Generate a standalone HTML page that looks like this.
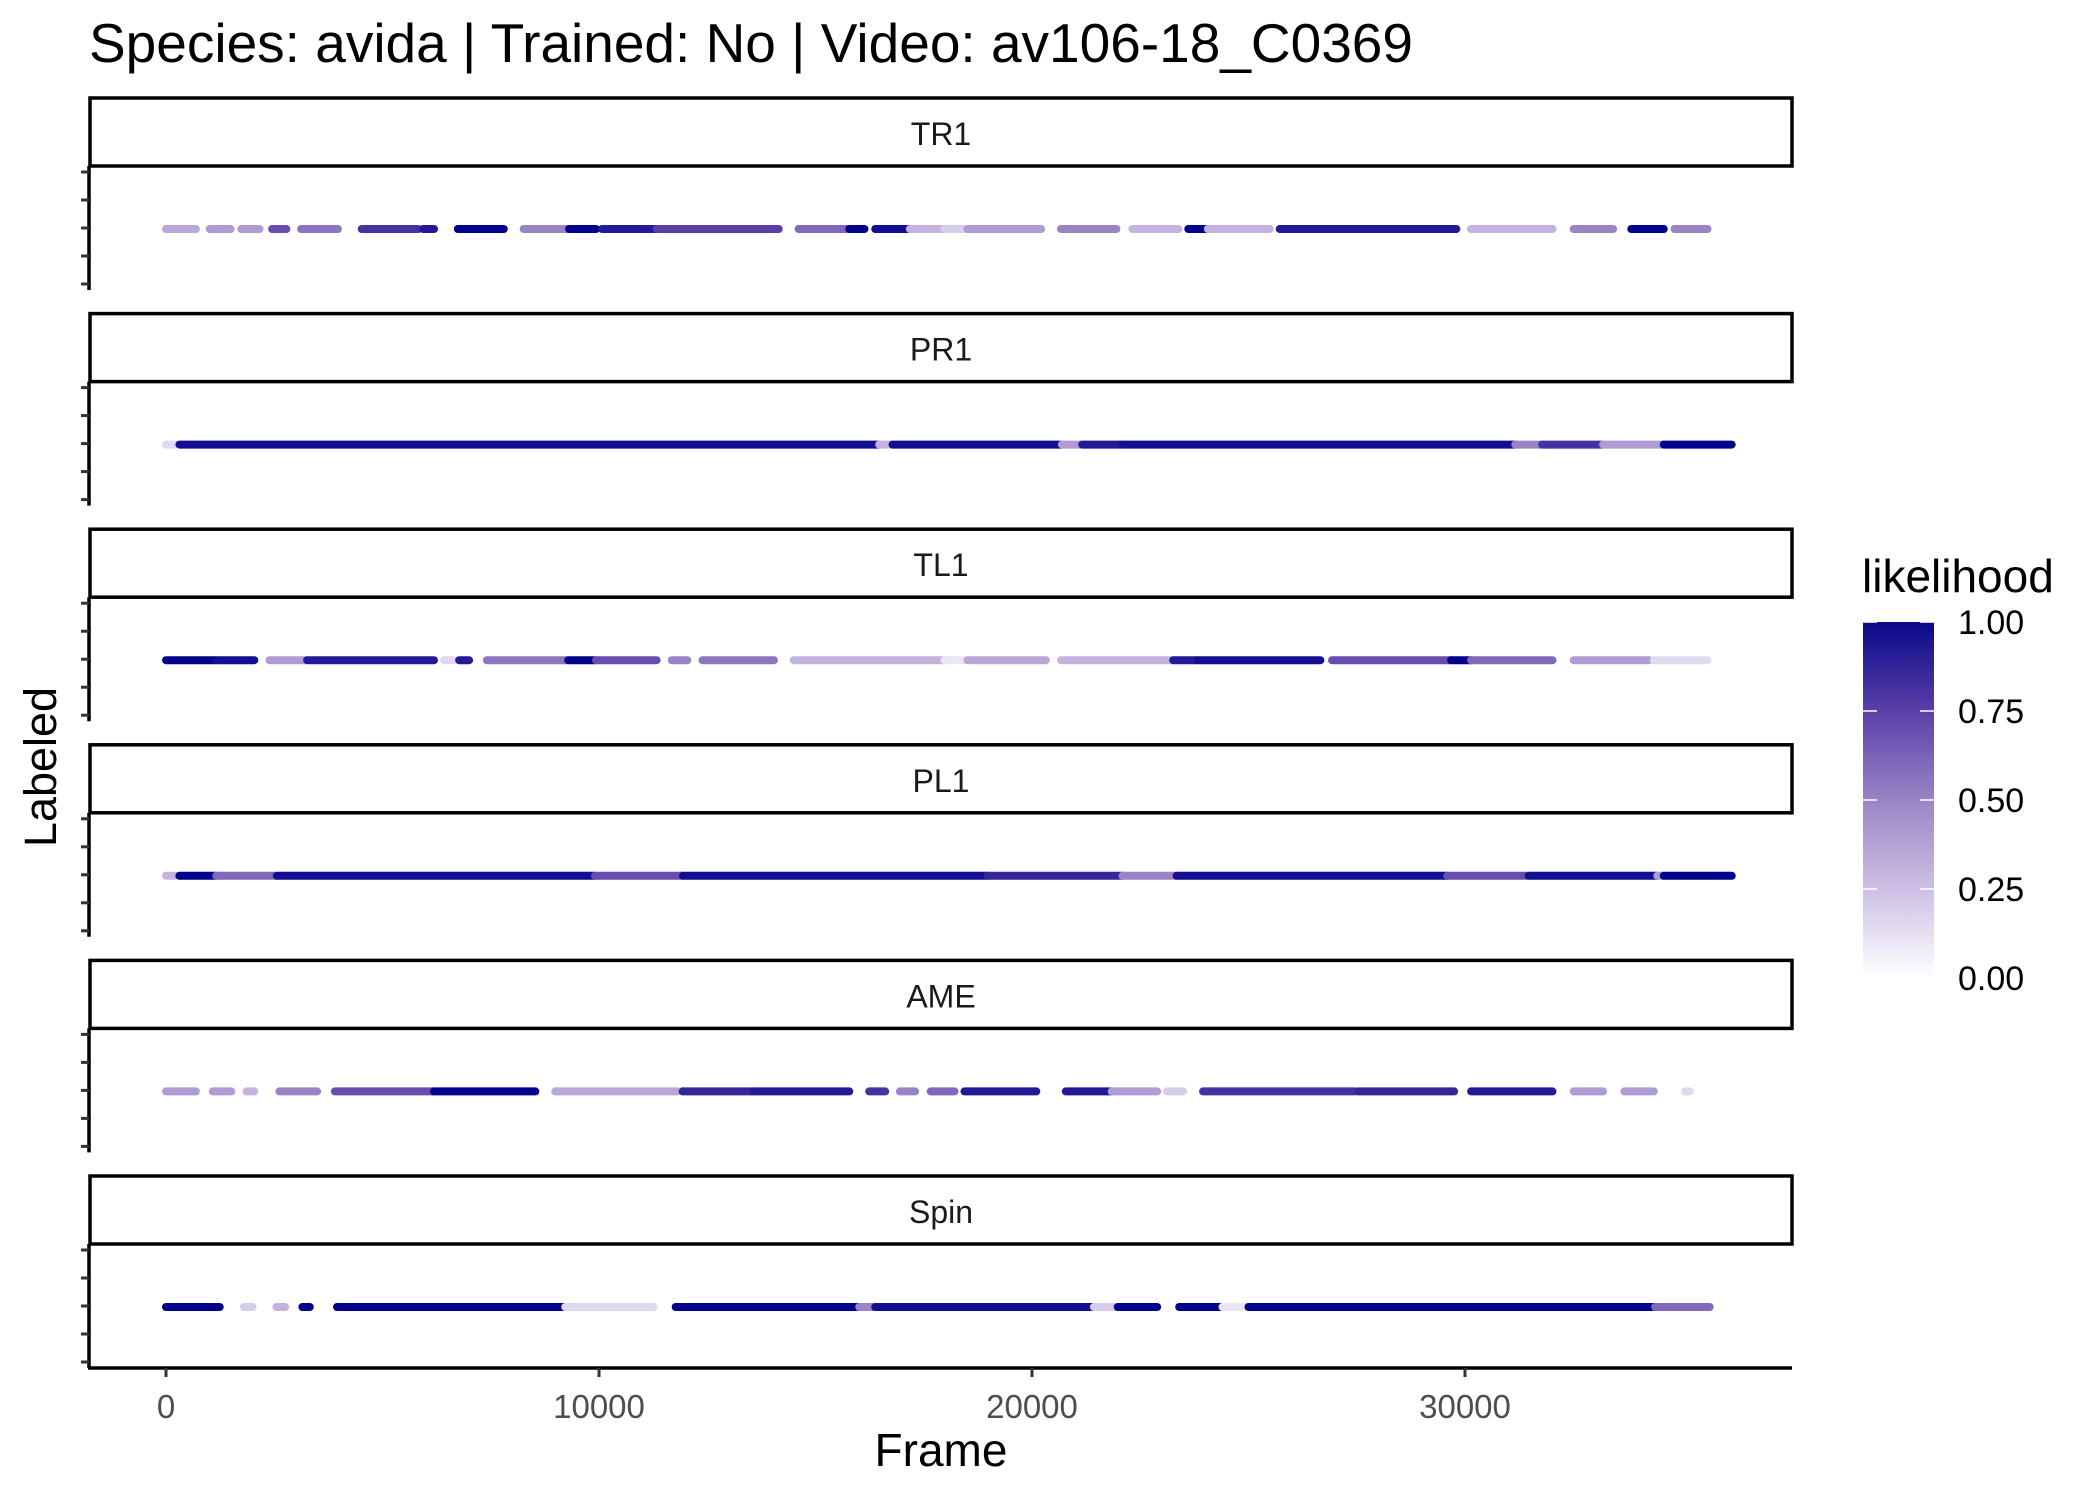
<!DOCTYPE html>
<html><head><meta charset="utf-8"><style>
html,body{margin:0;padding:0;background:#fff;}
svg{display:block;font-family:"Liberation Sans",Arial,sans-serif;}
</style></head><body>
<svg id="chart" width="2099" height="1499" viewBox="0 0 2099 1499" xmlns="http://www.w3.org/2000/svg">
<defs>
<linearGradient id="lg" x1="0" y1="1" x2="0" y2="0">
<stop offset="0" stop-color="#ffffff"/>
<stop offset="0.25" stop-color="#cdbfe4"/>
<stop offset="0.5" stop-color="#9a84c6"/>
<stop offset="0.75" stop-color="#5a3fa8"/>
<stop offset="1" stop-color="#0a0a8a"/>
</linearGradient>
</defs>
<text x="89" y="62" font-size="55" fill="#000">Species: avida | Trained: No | Video: av106-18_C0369</text>
<text transform="translate(56,767) rotate(-90)" text-anchor="middle" font-size="45" fill="#000">Labeled</text>
<text x="941" y="1466" text-anchor="middle" font-size="46" fill="#000">Frame</text>
<g id="panels"></g>
<g id="xaxis"></g>
<g id="legend">
<text x="1862" y="592" font-size="46" fill="#000">likelihood</text>
<rect x="1863" y="622" width="71" height="356" fill="url(#lg)"/>
</g>
</svg>
<script>
const panelNames = ["TR1","PR1","TL1","PL1","AME","Spin"];
const xTicks = [0,10000,20000,30000];
const legendTicks = [0,0.25,0.5,0.75,1];
const legendLabels = ["0.00","0.25","0.50","0.75","1.00"];
// segments per panel: start frame, end frame, likelihood
const trStart = [0,1010,1740,2450,3120,4520,5940,6740,8260,9310,10070,11330,14610,15780,16380,17180,17980,18510,20670,22320,23610,24060,25720,30140,32510,33840,34840];
const trEnd   = [690,1490,2160,2780,3970,5830,6190,7800,9290,9930,11330,14150,15780,16130,17180,17980,18440,20210,21950,23380,24060,25490,29800,32020,33420,34590,35600];
const trLik   = [0.35,0.4,0.4,0.7,0.55,0.8,0.9,1,0.5,1,0.9,0.75,0.6,1,0.95,0.3,0.2,0.4,0.5,0.3,1,0.3,0.9,0.3,0.5,1,0.5];
const prStart = [0,310,16470,16780,20690,21160,22090,31160,31780,33190,34590];
const prEnd   = [220,16470,16780,20690,21160,22090,31160,31780,33190,34590,36160];
const prLik   = [0.15,0.95,0.3,0.95,0.4,0.9,0.95,0.5,0.8,0.4,1];
const tlStart = [0,1150,2390,3260,6420,6770,7410,9290,9930,11680,12390,14500,17980,18510,20670,23260,23830,26930,29680,30140,32510,34360];
const tlEnd   = [1150,2040,3260,6190,6650,7000,9290,9930,11330,12040,14040,17980,18440,20320,23260,23830,26660,29680,30140,32020,34250,35600];
const tlLik   = [1,0.95,0.4,0.9,0.15,0.9,0.55,1,0.7,0.5,0.55,0.3,0.1,0.35,0.3,0.9,0.95,0.7,1,0.6,0.4,0.15];
const plStart = [0,310,1160,2560,9910,11940,18970,22090,23340,29590,31470,34440,34590];
const plEnd   = [220,1160,2560,9910,11940,18970,22090,23340,29590,31470,34440,34590,36160];
const plLik   = [0.3,1,0.6,0.95,0.7,0.95,0.85,0.5,0.95,0.7,0.95,0.4,1];
const ameStart = [0,1080,1860,2620,3900,6190,8990,11930,13560,16240,16950,17660,18440,20780,21840,23120,23950,27530,30140,32510,33680,35080];
const ameEnd   = [690,1510,2040,3490,6190,8530,11810,13560,15780,16610,17300,18210,20100,21840,22890,23490,27460,29750,32020,33190,34360,35190];
const ameLik   = [0.4,0.4,0.3,0.5,0.7,1,0.35,0.85,0.9,0.8,0.5,0.6,0.9,0.9,0.4,0.2,0.8,0.85,0.9,0.4,0.4,0.15];
const spStart = [0,1800,2550,3150,3950,9220,11770,16010,16380,21430,21980,23400,24400,25000,34390];
const spEnd   = [1240,2000,2750,3320,9220,11260,16010,16380,21430,21980,22890,24390,25000,34390,35650];
const spLik   = [1,0.2,0.3,1,1,0.15,1,0.5,0.95,0.2,1,1,0.1,1,0.6];
const starts = [trStart,prStart,tlStart,plStart,ameStart,spStart];
const ends = [trEnd,prEnd,tlEnd,plEnd,ameEnd,spEnd];
const liks = [trLik,prLik,tlLik,plLik,ameLik,spLik];

const NS="http://www.w3.org/2000/svg";
const X0=166, XK=0.0433;
function xs(f){return X0+f*XK;}
const stops=[[0,[255,255,255]],[0.25,[205,191,228]],[0.5,[154,132,198]],[0.75,[90,63,168]],[1,[0,0,139]]];
function col(v){v=Math.max(0,Math.min(1,v));for(let i=0;i<stops.length-1;i++){const a=stops[i],b=stops[i+1];if(v<=b[0]){const t=(v-a[0])/(b[0]-a[0]);const c=a[1].map((q,k)=>Math.round(q+(b[1][k]-q)*t));return "rgb("+c.join(",")+")";}}return "rgb(0,0,139)";}
function mk(tag,attrs,parent){const e=document.createElementNS(NS,tag);for(const k in attrs)e.setAttribute(k,attrs[k]);parent.appendChild(e);return e;}
const panels=document.getElementById("panels");
const L=90,R=1792,STEP=215.6,ST0=98;
panelNames.forEach((name,i)=>{
  const top=ST0+i*STEP;
  const g=mk("g",{},panels);
  
  
  const strip=mk("rect",{x:L,y:top,width:R-L,height:68,fill:"#fff",stroke:"#000","stroke-width":3.5},g);
  
  
  const st=mk("text",{x:(L+R)/2,y:top+47,"text-anchor":"middle","font-size":32,fill:"#1a1a1a"},g);
  st.textContent=name;
  
  
  const pTop=top+68, pBot=pTop+124;
  const ax=mk("line",{x1:L-1,y1:pTop,x2:L-1,y2:pBot,stroke:"#000","stroke-width":3.5},g);
  
  
  [6,34,62,90,118].forEach(o=>{
    const t=mk("line",{x1:L-9,y1:pTop+o,x2:L-1,y2:pTop+o,stroke:"#333","stroke-width":3},g);
    
    
  });
  const y=top+131;
  const s=starts[i],e=ends[i],lk=liks[i];
  for(let j=0;j<s.length;j++){
    const ln=mk("line",{x1:xs(s[j]),y1:y,x2:xs(e[j]),y2:y,stroke:col(lk[j]),"stroke-width":8,"stroke-linecap":"round"},g);
    
    
  }
});
const xa=document.getElementById("xaxis");
const bot=ST0+5*STEP+68+124;
const xl=mk("line",{x1:L-2,y1:bot,x2:R,y2:bot,stroke:"#000","stroke-width":3.5},xa);


xTicks.forEach(v=>{
  const t=mk("line",{x1:xs(v),y1:bot,x2:xs(v),y2:bot+9,stroke:"#333","stroke-width":3},xa);
  
  
  const tx=mk("text",{x:xs(v),y:bot+50,"text-anchor":"middle","font-size":33,fill:"#4d4d4d"},xa);
  tx.textContent=String(v);
  
  
});
const lg=document.getElementById("legend");
legendTicks.forEach((v,i)=>{
  const y=978-v*356;
  const a=mk("line",{x1:1863,y1:y,x2:1877,y2:y,stroke:"#fff","stroke-width":1.5},lg);
  
  
  const b=mk("line",{x1:1920,y1:y,x2:1934,y2:y,stroke:"#fff","stroke-width":1.5},lg);
  
  
  const t=mk("text",{x:1958,y:y+12,"font-size":34,fill:"#000"},lg);
  t.textContent=legendLabels[i];
  
  
});
</script>
</body></html>
